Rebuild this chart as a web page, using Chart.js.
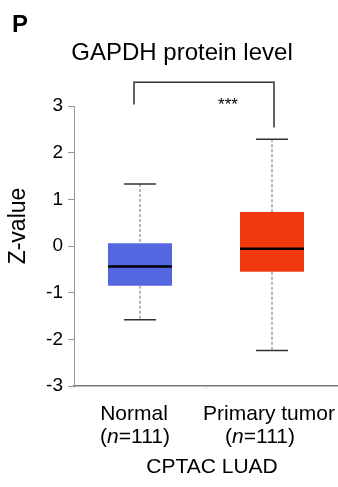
<!DOCTYPE html>
<html>
<head>
<meta charset="utf-8">
<script src="https://cdn.jsdelivr.net/npm/chart.js@4/dist/chart.umd.min.js"></script>
<style>
    html, body { margin: 0; padding: 0; background: #fff; }
    #wrap { width: 338px; height: 487px; }
</style>
</head>
<body>
<div id="wrap"><canvas id="boxChart" width="338" height="487"></canvas></div>
<script>
// Box plot data
const groups = ['Normal', 'Primary tumor'];
const groupN = [111, 111];
const whiskerMin = [-1.58, -2.24];
const q1Values = [-0.85, -0.55];
const medianValues = [-0.44, -0.06];
const q3Values = [0.06, 0.73];
const whiskerMax = [1.33, 2.29];
const boxColors = ['#5467E1', '#F1380F'];
const yTicks = [-3, -2, -1, 0, 1, 2, 3];

const FONT = 'Arial, "Liberation Sans", Helvetica, sans-serif';

// Whiskers, medians and annotation text drawn on top of the bars
const boxPlotExtras = {
    id: 'boxPlotExtras',
    afterDatasetsDraw(chart) {
        const ctx = chart.ctx;
        const y = chart.scales.y;
        const meta = chart.getDatasetMeta(0);
        ctx.save();
        meta.data.forEach((bar, i) => {
            const cx = bar.x;
            const half = bar.width / 2;
            const capHalf = half / 2;
            const yTop = y.getPixelForValue(q3Values[i]);
            const yBot = y.getPixelForValue(q1Values[i]);
            const yMax = y.getPixelForValue(whiskerMax[i]);
            const yMin = y.getPixelForValue(whiskerMin[i]);

            // dashed whiskers
            ctx.strokeStyle = '#a0a0a0';
            ctx.lineWidth = 1.5;
            ctx.setLineDash([3, 2]);
            ctx.beginPath();
            ctx.moveTo(cx, yMax); ctx.lineTo(cx, yTop);
            ctx.moveTo(cx, yBot); ctx.lineTo(cx, yMin);
            ctx.stroke();
            ctx.setLineDash([]);

            // caps
            ctx.strokeStyle = '#333';
            ctx.lineWidth = 1.5;
            ctx.beginPath();
            ctx.moveTo(cx - capHalf, yMax); ctx.lineTo(cx + capHalf, yMax);
            ctx.moveTo(cx - capHalf, yMin); ctx.lineTo(cx + capHalf, yMin);
            ctx.stroke();

            // median
            ctx.strokeStyle = '#000';
            ctx.lineWidth = 2.5;
            ctx.beginPath();
            ctx.moveTo(cx - half, y.getPixelForValue(medianValues[i]));
            ctx.lineTo(cx + half, y.getPixelForValue(medianValues[i]));
            ctx.stroke();
        });
        ctx.restore();
    },
    afterDraw(chart) {
        const ctx = chart.ctx;
        const x = chart.scales.x;
        const y = chart.scales.y;
        ctx.save();
        ctx.fillStyle = '#000';
        ctx.textBaseline = 'alphabetic';

        // panel letter
        ctx.font = 'bold 24px ' + FONT;
        ctx.textAlign = 'left';
        ctx.fillText('P', 12, 32);

        // title
        ctx.font = '24px ' + FONT;
        ctx.textAlign = 'center';
        ctx.fillText('GAPDH protein level', 182, 60);

        // significance bracket
        const xa = x.getPixelForValue(0) - 6;
        const xb = x.getPixelForValue(1) + 2;
        ctx.strokeStyle = '#333';
        ctx.lineWidth = 1.5;
        ctx.beginPath();
        ctx.moveTo(xa, y.getPixelForValue(3.03));
        ctx.lineTo(xa, y.getPixelForValue(3.51));
        ctx.lineTo(xb, y.getPixelForValue(3.51));
        ctx.lineTo(xb, y.getPixelForValue(2.54));
        ctx.stroke();
        ctx.font = '17px ' + FONT;
        ctx.fillText('***', 228, 110);

        // y axis title
        ctx.save();
        ctx.translate(25, 226);
        ctx.rotate(-Math.PI / 2);
        ctx.font = '23px ' + FONT;
        ctx.textAlign = 'center';
        ctx.fillText('Z-value', 0, 0);
        ctx.restore();

        // category labels with italic n
        const labelShift = [[-6, -5], [-3, -12]];
        groups.forEach((g, i) => {
            const cx = x.getPixelForValue(i);
            ctx.font = '21px ' + FONT;
            ctx.textAlign = 'center';
            ctx.fillText(g, cx + labelShift[i][0], 420);

            const partA = '(';
            const partN = 'n';
            const partB = '=' + groupN[i] + ')';
            ctx.font = '21px ' + FONT;
            const wA = ctx.measureText(partA).width;
            const wB = ctx.measureText(partB).width;
            ctx.font = 'italic 21px ' + FONT;
            const wN = ctx.measureText(partN).width;
            let sx = cx + labelShift[i][1] - (wA + wN + wB) / 2;
            ctx.textAlign = 'left';
            ctx.font = '21px ' + FONT;
            ctx.fillText(partA, sx, 443);
            sx += wA;
            ctx.font = 'italic 21px ' + FONT;
            ctx.fillText(partN, sx, 443);
            sx += wN;
            ctx.font = '21px ' + FONT;
            ctx.fillText(partB, sx, 443);
        });

        // cohort label
        ctx.font = '21px ' + FONT;
        ctx.textAlign = 'center';
        ctx.fillText('CPTAC LUAD', 212, 473);
        ctx.restore();
    }
};

new Chart(document.getElementById('boxChart'), {
    type: 'bar',
    data: {
        labels: groups,
        datasets: [{
            data: q1Values.map((q, i) => [q, q3Values[i]]),
            backgroundColor: boxColors,
            borderWidth: 0,
            borderSkipped: false,
            categoryPercentage: 1,
            barPercentage: 0.485
        }]
    },
    options: {
        responsive: false,
        animation: false,
        layout: { padding: { top: 106, right: 0, bottom: 0, left: 0 } },
        plugins: {
            legend: { display: false },
            tooltip: { enabled: false }
        },
        scales: {
            x: {
                offset: true,
                ticks: { display: false },
                grid: { drawOnChartArea: false, drawTicks: true, tickLength: 3, color: '#dddddd', offset: true },
                border: { display: true, color: '#777777', width: 1.5 },
                afterFit(scale) { scale.height = 101; }
            },
            y: {
                min: -3,
                max: 3,
                afterBuildTicks(scale) { scale.ticks = yTicks.map(v => ({ value: v })); },
                ticks: {
                    font: { size: 19, family: FONT },
                    color: '#000',
                    padding: 5
                },
                grid: { drawOnChartArea: false, drawTicks: true, tickLength: 6, color: '#999999' },
                border: { display: true, color: '#999999', width: 1 },
                afterFit(scale) { scale.width = 74; }
            }
        }
    },
    plugins: [boxPlotExtras]
});
</script>
</body>
</html>
